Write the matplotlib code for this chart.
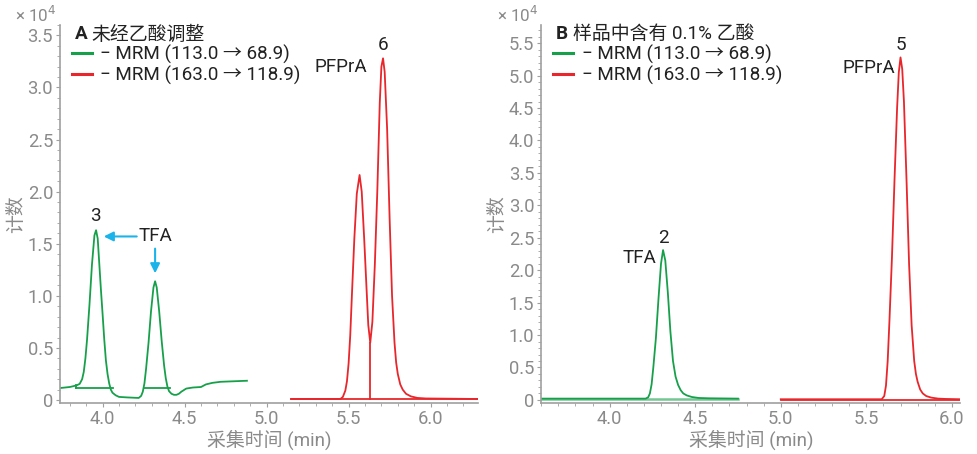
import matplotlib
matplotlib.use("Agg")
import matplotlib.pyplot as plt
from matplotlib.ticker import MultipleLocator

plt.rcParams['font.family'] = ['Roboto', 'Noto Sans CJK SC', 'DejaVu Sans']

GREEN = '#17a04a'
RED = '#e8262b'
CYAN = '#1ab4ea'
GRAY = '#8a8a8a'
DARK = '#222222'

# panel A: without acetic acid adjustment
a_green_t = [3.74, 3.80, 3.84, 3.86, 3.875, 3.885, 3.895, 3.905, 3.92, 3.935, 3.95, 3.96, 3.97,
             3.98, 3.99, 4.00, 4.01, 4.02, 4.03, 4.04, 4.05, 4.06, 4.08, 4.10, 4.15, 4.22, 4.235,
             4.245, 4.255, 4.265, 4.28, 4.295, 4.31, 4.32, 4.33, 4.345, 4.36, 4.375, 4.385,
             4.395, 4.405, 4.42, 4.435, 4.45, 4.465, 4.48, 4.51, 4.55, 4.60, 4.63, 4.67, 4.72,
             4.80, 4.88]
a_green_y = [0.115, 0.125, 0.14, 0.155, 0.20, 0.27, 0.40, 0.58, 0.92, 1.30, 1.58, 1.63, 1.55,
             1.30, 1.05, 0.82, 0.58, 0.38, 0.25, 0.16, 0.10, 0.07, 0.045, 0.03, 0.025, 0.02, 0.04,
             0.08, 0.16, 0.30, 0.55, 0.85, 1.08, 1.14, 1.08, 0.85, 0.57, 0.33, 0.21,
             0.13, 0.085, 0.06, 0.05, 0.05, 0.06, 0.08, 0.11, 0.12, 0.125, 0.15, 0.165, 0.175,
             0.18, 0.185]
a_green_base = [(3.84, 4.065, 0.12), (4.25, 4.41, 0.12)]

a_red_t = [5.15, 5.45, 5.465, 5.48, 5.49, 5.50, 5.51, 5.52, 5.535, 5.55, 5.567, 5.58, 5.595, 5.61,
           5.62, 5.632, 5.645, 5.66, 5.675, 5.69, 5.70, 5.71, 5.72, 5.735, 5.75, 5.765, 5.78,
           5.79, 5.80, 5.815, 5.83, 5.85, 5.88, 5.92, 5.97, 6.29]
a_red_y = [0.01, 0.01, 0.03, 0.09, 0.18, 0.35, 0.62, 1.0, 1.55, 1.98, 2.16, 2.0, 1.55, 1.05,
           0.72, 0.55, 0.75, 1.3, 2.0, 2.85, 3.2, 3.28, 3.15, 2.6, 1.75, 1.0, 0.55,
           0.36, 0.25, 0.15, 0.10, 0.06, 0.035, 0.02, 0.015, 0.01]
a_red_drop = (5.632, 0.55)

# panel B: 0.1% acetic acid in sample
b_green_t = [3.60, 4.21, 4.225, 4.235, 4.245, 4.255, 4.27, 4.285, 4.30, 4.312, 4.325, 4.34, 4.355,
             4.37, 4.385, 4.40, 4.415, 4.43, 4.45, 4.48, 4.52, 4.58, 4.75]
b_green_y = [0.02, 0.02, 0.04, 0.10, 0.24, 0.5, 0.95, 1.55, 2.1, 2.31, 2.15, 1.65, 1.05,
             0.6, 0.36, 0.23, 0.15, 0.10, 0.07, 0.045, 0.03, 0.025, 0.02]
b_red_t = [5.00, 5.59, 5.605, 5.615, 5.625, 5.635, 5.65, 5.665, 5.68, 5.69, 5.70, 5.71, 5.72,
           5.735, 5.75, 5.765, 5.78, 5.79, 5.80, 5.815, 5.83, 5.85, 5.88, 5.92, 5.96, 6.05]
b_red_y = [0.01, 0.01, 0.06, 0.22, 0.6, 1.2, 2.2, 3.4, 4.5, 5.05, 5.28, 5.1, 4.6,
           3.4, 2.1, 1.15, 0.6, 0.4, 0.28, 0.16, 0.10, 0.06, 0.035, 0.02, 0.015, 0.01]

legend_labels = ['\u2212 MRM (113.0 \u2192 68.9)', '\u2212 MRM (163.0 \u2192 118.9)']

FS = 13.6


def style_axes(ax, xlim, ylim, ymajor):
  ax.set_xlim(*xlim)
  ax.set_ylim(*ylim)
  for s in ['top', 'right']:
    ax.spines[s].set_visible(False)
  for s in ['left', 'bottom']:
    ax.spines[s].set_color('#a0a0a0')
    ax.spines[s].set_linewidth(1.2)
  ax.xaxis.set_major_locator(MultipleLocator(0.5))
  ax.xaxis.set_minor_locator(MultipleLocator(0.1))
  ax.yaxis.set_major_locator(MultipleLocator(ymajor))
  ax.yaxis.set_minor_locator(MultipleLocator(0.1))
  ax.tick_params(which='both', colors='#a0a0a0', labelcolor=GRAY, labelsize=13.2)
  ax.tick_params(which='major', length=3, pad=2)
  ax.tick_params(which='minor', length=2)
  ax.set_yticks(ax.get_yticks())
  labels = ['0' if abs(v) < 1e-9 else f'{v:.1f}' for v in ax.get_yticks()]
  ax.set_yticklabels(labels)
  ax.set_ylim(*ylim)
  ax.set_xlabel('采集时间 (min)', color=GRAY, fontsize=FS, labelpad=1)
  ax.text(-0.008, 1.0, '× 10$^4$', transform=ax.transAxes, ha='right', va='bottom',
          color=GRAY, fontsize=12.2)


def add_legend(ax, title_bold, title_rest, lines):
  ax.text(0.035, 0.975, title_bold, transform=ax.transAxes, fontsize=FS, fontweight='bold',
          color=DARK, va='center')
  ax.text(0.075, 0.975, title_rest, transform=ax.transAxes, fontsize=FS, color=DARK, va='center')
  leg = ax.legend(lines, legend_labels, loc='upper left', bbox_to_anchor=(0.02, 0.958), frameon=False,
                  fontsize=FS, handlelength=1.05, handletextpad=0.45, labelspacing=0.08,
                  borderaxespad=0, borderpad=0.2)
  for t in leg.get_texts():
    t.set_color(DARK)
  for h in leg.legend_handles:
    h.set_linewidth(2.2)


fig = plt.figure(figsize=(9.77, 4.54), dpi=100)
axA = fig.add_axes([0.0614, 0.112, 0.428, 0.833])
axB = fig.add_axes([0.554, 0.112, 0.429, 0.833])

# ---- panel A
gA, = axA.plot(a_green_t, a_green_y, color=GREEN, lw=1.3)
for t0, t1, yb in a_green_base:
  axA.plot([t0, t1], [yb, yb], color=GREEN, lw=1.3)
axA.plot([a_green_base[0][0], a_green_base[0][0]], [0.14, 0.12], color=GREEN, lw=1.3)
rA, = axA.plot(a_red_t, a_red_y, color=RED, lw=1.3)
axA.plot([a_red_t[0], a_red_t[-1]], [0.01, 0.01], color=RED, lw=1.3)
axA.plot([a_red_drop[0], a_red_drop[0]], [0.01, a_red_drop[1]], color=RED, lw=1.3)
style_axes(axA, (3.74, 6.29), (-0.03, 3.6), 0.5)
axA.set_ylabel('计数', color=GRAY, fontsize=FS, labelpad=2)
add_legend(axA, 'A', '未经乙酸调整', [gA, rA])

axA.text(3.955, 1.68, '3', ha='center', va='bottom', fontsize=FS, color=DARK)
axA.text(4.325, 1.57, 'TFA', ha='center', va='center', fontsize=FS, color=DARK)
axA.annotate('', xy=(3.99, 1.57), xytext=(4.225, 1.57),
             arrowprops=dict(arrowstyle='-|>', color=CYAN, lw=1.5, mutation_scale=14))
axA.annotate('', xy=(4.32, 1.19), xytext=(4.32, 1.48),
             arrowprops=dict(arrowstyle='-|>', color=CYAN, lw=1.5, mutation_scale=14))
axA.text(5.71, 3.32, '6', ha='center', va='bottom', fontsize=FS, color=DARK)
axA.text(5.615, 3.2, 'PFPrA', ha='right', va='center', fontsize=FS, color=DARK)

# ---- panel B
gB, = axB.plot(b_green_t, b_green_y, color=GREEN, lw=1.3)
axB.plot([b_green_t[0], b_green_t[-1]], [0.015, 0.015], color=GREEN, lw=1.8, alpha=0.6)
rB, = axB.plot(b_red_t, b_red_y, color=RED, lw=1.3)
axB.plot([b_red_t[0], b_red_t[-1]], [0.0, 0.0], color=RED, lw=1.3)
style_axes(axB, (3.6, 6.05), (-0.05, 5.78), 0.5)
axB.set_ylabel('计数', color=GRAY, fontsize=FS, labelpad=2)
add_legend(axB, 'B', '样品中含有 0.1% 乙酸', [gB, rB])

axB.text(4.312, 2.36, '2', ha='center', va='bottom', fontsize=FS, color=DARK)
axB.text(4.275, 2.18, 'TFA', ha='right', va='center', fontsize=FS, color=DARK)
axB.text(5.70, 5.33, '5', ha='center', va='bottom', fontsize=FS, color=DARK)
axB.text(5.67, 5.12, 'PFPrA', ha='right', va='center', fontsize=FS, color=DARK)

fig.savefig('out.png', dpi=100)
